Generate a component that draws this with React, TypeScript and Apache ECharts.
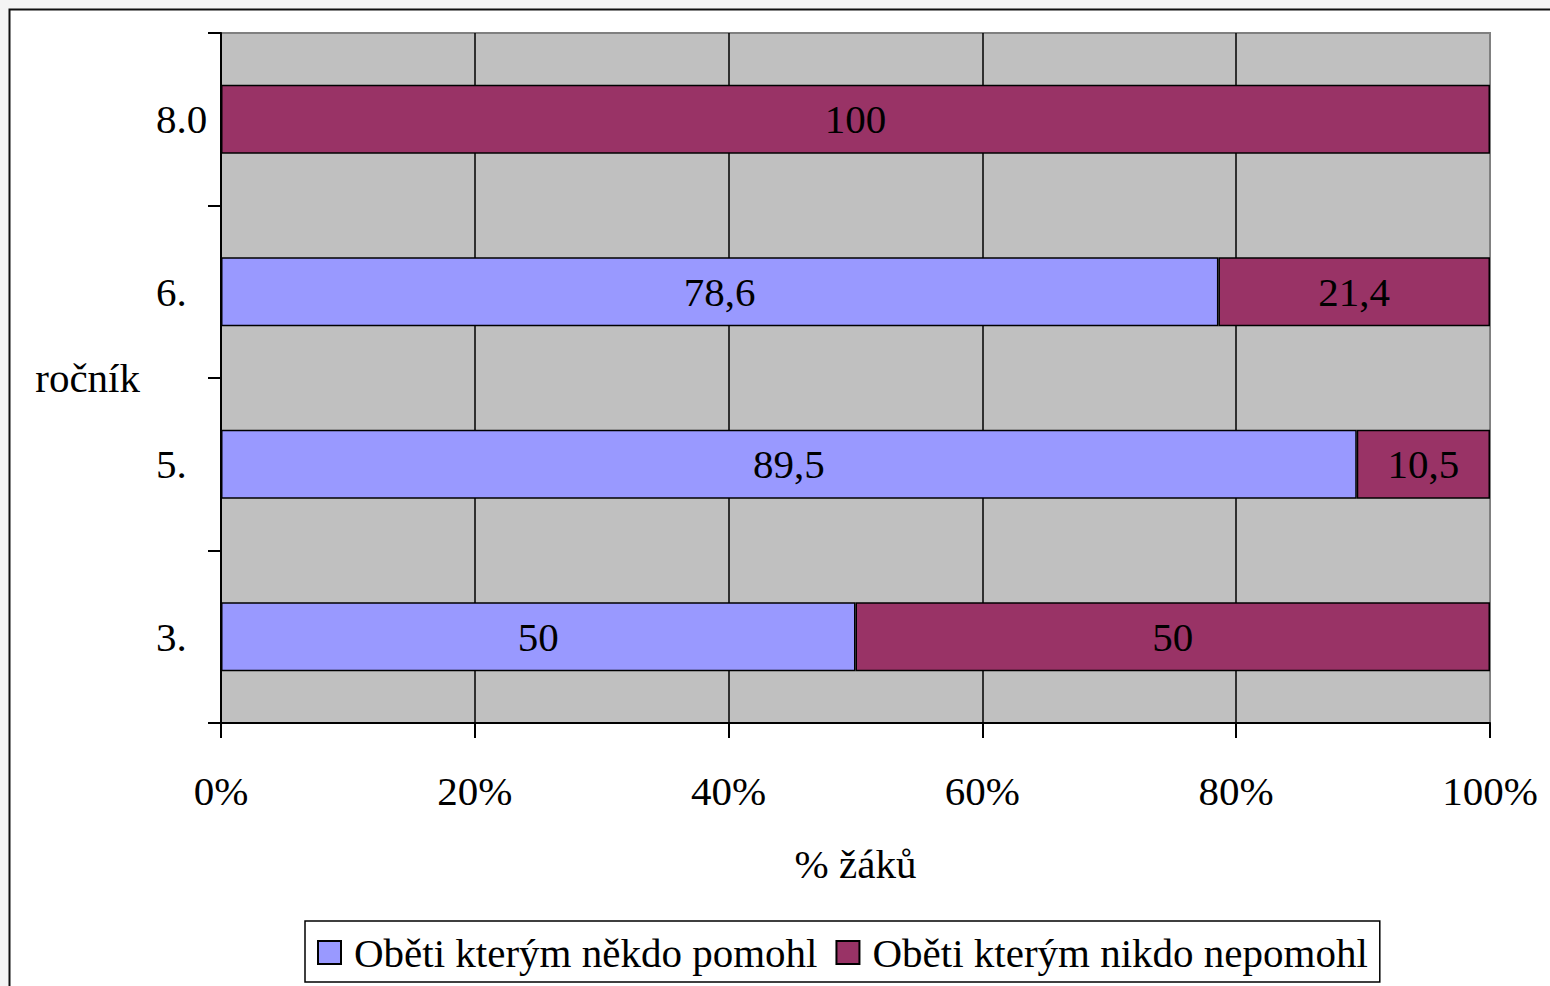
import React, { useEffect, useRef } from "react";
import * as echarts from "echarts";

const categories = ["3.", "5.", "6.", "8.0"];
const helped = [50, 89.5, 78.6, null];
const notHelped = [50, 10.5, 21.4, 100];
const seriesNames = ["Oběti kterým někdo pomohl", "Oběti kterým nikdo nepomohl"];
const xTicks = [0, 20, 40, 60, 80, 100];

const FONT = "'Liberation Serif', 'Times New Roman', serif";
const FS = 41;

export default function App() {
  const ref = useRef<HTMLDivElement>(null);
  useEffect(() => {
    document.body.style.margin = "0";
    const chart = echarts.init(ref.current!, null, { renderer: "svg" });
    const fmt = (p: any) => (p.value == null ? "" : String(p.value).replace(".", ","));
    chart.setOption({
      animation: false,
      backgroundColor: "#f4f4f4",
      textStyle: { fontFamily: FONT, color: "#000" },
      graphic: [
        {
          type: "rect",
          z: -10,
          shape: { x: 9.5, y: 9.5, width: 1600, height: 1000 },
          style: { fill: "#fff", stroke: "#111", lineWidth: 2 },
        },
      ],
      grid: {
        left: 221,
        right: 60,
        top: 33,
        bottom: 263,
        show: true,
        backgroundColor: "#c0c0c0",
        borderColor: "#808080",
        borderWidth: 2,
      },
      xAxis: {
        type: "value",
        min: xTicks[0],
        max: xTicks[xTicks.length - 1],
        interval: 20,
        name: "% žáků",
        nameLocation: "middle",
        nameGap: 120,
        nameTextStyle: { fontSize: FS, fontFamily: FONT, color: "#000" },
        axisLine: { show: true, lineStyle: { color: "#000", width: 2 } },
        axisTick: { show: true, length: 15, lineStyle: { color: "#000", width: 2 } },
        axisLabel: {
          formatter: "{value}%",
          fontSize: FS,
          fontFamily: FONT,
          color: "#000",
          margin: 47,
        },
        splitLine: {
          show: true,
          showMinLine: false,
          showMaxLine: false,
          lineStyle: { color: "#000", width: 1.5 },
        },
      },
      yAxis: {
        type: "category",
        data: categories,
        name: "ročník",
        nameLocation: "middle",
        nameRotate: 0,
        nameGap: 81,
        nameTextStyle: { fontSize: FS, fontFamily: FONT, color: "#000" },
        axisLine: { show: true, lineStyle: { color: "#000", width: 2 } },
        axisTick: { show: true, length: 13, lineStyle: { color: "#000", width: 2 } },
        axisLabel: {
          fontSize: FS,
          fontFamily: FONT,
          color: "#000",
          align: "left",
          margin: 65,
        },
        splitLine: { show: false },
      },
      legend: {
        bottom: 4,
        left: 305,
        orient: "horizontal",
        itemWidth: 23,
        itemHeight: 23,
        itemGap: 18,
        padding: [11, 12, 9, 12],
        borderColor: "#000",
        borderWidth: 1.5,
        backgroundColor: "#fff",
        icon: "rect",
        textStyle: { fontSize: FS, fontFamily: FONT, color: "#000", padding: [0, 0, 0, 8] },
        data: seriesNames,
      },
      series: [
        {
          name: seriesNames[0],
          type: "bar",
          stack: "total",
          data: helped,
          barWidth: "40%",
          itemStyle: { color: "#9999ff", borderColor: "#000", borderWidth: 1.5 },
          label: {
            show: true,
            position: "inside",
            color: "#000",
            fontSize: FS,
            fontFamily: FONT,
            formatter: fmt,
          },
        },
        {
          name: seriesNames[1],
          type: "bar",
          stack: "total",
          data: notHelped,
          barWidth: "40%",
          itemStyle: { color: "#993366", borderColor: "#000", borderWidth: 1.5 },
          label: {
            show: true,
            position: "inside",
            color: "#000",
            fontSize: FS,
            fontFamily: FONT,
            formatter: fmt,
          },
        },
      ],
    });
    return () => chart.dispose();
  }, []);
  return (
    <div
      ref={ref}
      style={{ position: "fixed", left: 0, top: 0, width: 1550, height: 986 }}
    />
  );
}
